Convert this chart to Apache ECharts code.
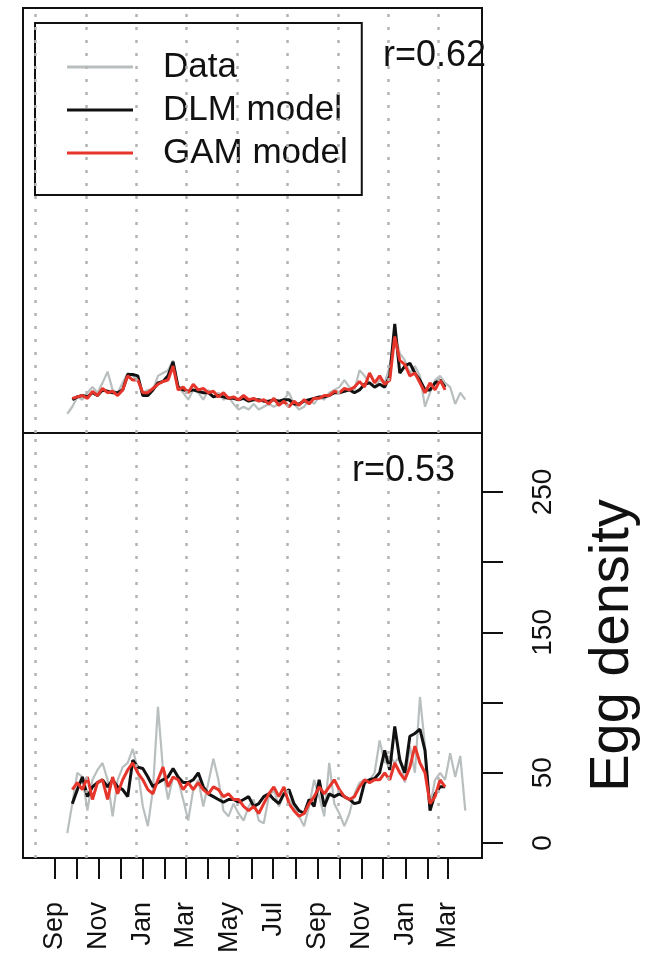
<!DOCTYPE html>
<html><head><meta charset="utf-8">
<script src="https://cdn.jsdelivr.net/npm/echarts@6/dist/echarts.min.js"></script>
<style>html,body{margin:0;padding:0;background:#fff}#c{width:658px;height:958px}</style>
</head><body><div id="c"></div>
<script>
// x values are days after 1 September of the first year; samples are weekly
const startDay = 17;
const weekStep = 7;
const modelStartWeek = 1;
const monthTickDays = [0,30,61,91,122,153,181,212,242,273,303,334,365,395,426,456,487,518,546];
const monthLabels = ['Sep','Oct','Nov','Dec','Jan','Feb','Mar','Apr','May','Jun','Jul','Aug','Sep','Oct','Nov','Dec','Jan','Feb','Mar'];
const labeledMonthDays = [0,61,122,181,242,303,365,426,487,546];
const gridLineDays = [-27,43,113,183,253,323,393,463,533];
const yTicks = [0,50,100,150,200,250];
const yTickLabels = [0,50,150,250];
const seriesNames = ['Data','DLM model','GAM model'];
const panelR = ['r=0.62','r=0.53'];

const topData = [3,8,15,13,18,22,18,25,33,20,
  18,25,32,30,27,18,20,20,30,32,
  34,41,22,18,13,20,18,13,20,15,
  18,13,15,10,6,8,6,10,6,8,
  10,8,10,13,18,10,6,8,13,10,
  15,13,18,20,22,27,22,20,34,30,
  25,22,27,25,37,60,46,41,32,37,
  30,8,18,27,30,25,22,10,18,13];
const topDLM = [13,15,16,15,18,16,20,19,18,18,
  20,31,31,30,16,16,20,25,26,30,
  40,22,20,19,20,19,18,18,15,16,
  15,14,14,13,14,12,13,13,12,12,
  13,12,13,13,10,10,12,13,14,15,
  15,16,18,18,19,20,18,20,24,25,
  22,24,22,30,67,32,37,39,32,27,
  20,20,25,27,22];
const topGAM = [14,15,16,14,19,16,21,18,19,16,
  20,30,27,27,18,18,21,24,26,27,
  37,20,22,18,24,20,21,18,19,15,
  18,14,15,13,16,13,14,12,13,10,
  14,9,12,8,12,9,13,10,14,14,
  16,16,19,18,21,20,22,26,22,32,
  25,30,24,27,58,41,38,30,32,25,
  18,25,20,27,20];
const botData = [7,28,50,47,23,45,52,57,45,19,
  45,54,57,67,52,26,12,38,97,52,
  31,47,45,31,16,38,45,26,43,60,
  45,23,19,28,21,16,26,31,16,14,
  33,38,26,35,31,26,19,12,26,45,
  33,19,57,28,21,12,21,35,43,45,
  45,50,73,57,62,57,62,43,69,50,
  104,69,26,45,50,45,64,47,62,23];
const botDLM = [28,38,47,33,40,43,45,40,45,40,
  38,33,59,54,53,47,40,43,45,47,
  53,47,43,43,45,50,40,35,33,31,
  29,31,31,29,31,33,26,28,33,35,
  31,28,35,38,28,23,21,31,26,45,
  26,35,33,35,33,31,28,29,43,45,
  46,50,66,52,83,59,50,76,78,81,
  66,23,35,40,40];
const botGAM = [38,43,38,47,31,43,45,31,47,35,
  45,52,57,50,45,38,35,45,54,40,
  47,45,38,43,38,43,38,35,40,38,
  33,35,31,31,26,23,26,21,28,35,
  40,33,40,28,23,19,21,28,33,40,
  35,40,45,38,33,31,33,40,45,43,
  45,45,50,45,57,50,45,54,69,57,
  50,28,33,45,40];

const FONT = '"Liberation Sans", Arial, Helvetica, sans-serif';
const X_MIN = -44.5, X_MAX = 593.2, Y_MIN = -10.7, Y_MAX = 292;
const COLORS = {data:'#b9bfbf', dlm:'#111111', gam:'#e6352b'};

const toPairs = (arr, offset) => arr.map((v, k) => [startDay + weekStep * (k + offset), v]);

function panelSeries(idx, data, dlm, gam) {
  return [
    {name: seriesNames[0], type:'line', xAxisIndex: idx, yAxisIndex: idx, data: toPairs(data, 0),
     symbol:'none', color: COLORS.data, lineStyle:{color: COLORS.data, width:2.2}, z:2,
     markLine:{silent:true, symbol:'none', label:{show:false},
       lineStyle:{color:'#b4b4b4', type:[3,10], width:2.5},
       data: gridLineDays.map(d => ({xAxis: d}))}},
    {name: seriesNames[1], type:'line', xAxisIndex: idx, yAxisIndex: idx, data: toPairs(dlm, modelStartWeek),
     symbol:'none', color: COLORS.dlm, lineStyle:{color: COLORS.dlm, width:3}, z:3},
    {name: seriesNames[2], type:'line', xAxisIndex: idx, yAxisIndex: idx, data: toPairs(gam, modelStartWeek),
     symbol:'none', color: COLORS.gam, lineStyle:{color: COLORS.gam, width:3}, z:4}
  ];
}

const chart = echarts.init(document.getElementById('c'));
chart.setOption({
  animation:false,
  backgroundColor:'#ffffff',
  grid:[
    {left:23, top:8, width:459, height:425, show:true, borderColor:'#111', borderWidth:2, backgroundColor:'transparent'},
    {left:23, top:433, width:459, height:425, show:true, borderColor:'#111', borderWidth:2, backgroundColor:'transparent'}
  ],
  xAxis:[
    {gridIndex:0, type:'value', min:X_MIN, max:X_MAX, show:false},
    {gridIndex:1, type:'value', min:X_MIN, max:X_MAX, position:'bottom',
     axisLine:{show:false, onZero:false}, splitLine:{show:false},
     axisTick:{show:true, inside:false, length:21, customValues: monthTickDays, lineStyle:{color:'#111', width:2}},
     axisLabel:{show:true, customValues: labeledMonthDays, rotate:90, margin:44, fontSize:27,
       color:'#111', fontFamily:FONT, formatter: v => monthLabels[monthTickDays.indexOf(v)]}}
  ],
  yAxis:[
    {gridIndex:0, type:'value', min:Y_MIN, max:Y_MAX, show:false},
    {gridIndex:1, type:'value', min:Y_MIN, max:Y_MAX, position:'right',
     name:'Egg density', nameLocation:'middle', nameRotate:90, nameGap:103,
     nameTextStyle:{fontSize:56, fontFamily:FONT, color:'#111'},
     axisLine:{show:false, onZero:false}, splitLine:{show:false},
     axisTick:{show:true, inside:false, length:21, customValues: yTicks, lineStyle:{color:'#111', width:2}},
     axisLabel:{show:true, customValues: yTickLabels, rotate:90, margin:47, fontSize:28, color:'#111', fontFamily:FONT}}
  ],
  legend:{
    left:35, top:23, orient:'vertical', padding:[24,14,22,32],
    borderColor:'#111', borderWidth:2, backgroundColor:'#fff',
    itemGap:3, itemWidth:66, itemHeight:3, icon:'rect',
    textStyle:{fontSize:35, fontFamily:FONT, color:'#111', lineHeight:40, padding:[0,0,0,25]},
    data: seriesNames
  },
  graphic:[
    {type:'text', left:383, top:38, z:10, style:{text: panelR[0], font:'36px "Liberation Sans", Arial', fill:'#111'}},
    {type:'text', left:352, top:453, z:10, style:{text: panelR[1], font:'36px "Liberation Sans", Arial', fill:'#111'}}
  ],
  series: [].concat(panelSeries(0, topData, topDLM, topGAM), panelSeries(1, botData, botDLM, botGAM))
});
</script>
</body></html>
